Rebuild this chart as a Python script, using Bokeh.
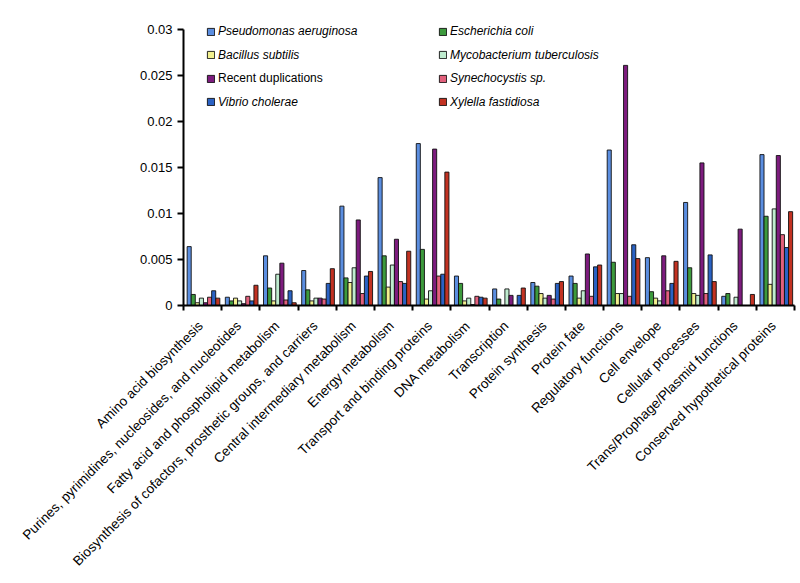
import math
from bokeh.plotting import figure
from bokeh.models import Range1d, FixedTicker, Legend, LegendItem, ColumnDataSource
from bokeh.embed import file_html
from bokeh.resources import INLINE

categories = [
    "Amino acid biosynthesis",
    "Purines, pyrimidines, nucleosides, and nucleotides",
    "Fatty acid and phospholipid metabolism",
    "Biosynthesis of cofactors, prosthetic groups, and carriers",
    "Central intermediary metabolism",
    "Energy metabolism",
    "Transport and binding proteins",
    "DNA metabolism",
    "Transcription",
    "Protein synthesis",
    "Protein fate",
    "Regulatory functions",
    "Cell envelope",
    "Cellular processes",
    "Trans/Prophage/Plasmid functions",
    "Conserved hypothetical proteins",
]

series_names = [
    "Pseudomonas aeruginosa",
    "Escherichia coli",
    "Bacillus subtilis",
    "Mycobacterium tuberculosis",
    "Recent duplications",
    "Synechocystis sp.",
    "Vibrio cholerae",
    "Xylella fastidiosa",
]

pseudomonas = [0.0064, 0.0009, 0.0054, 0.0038, 0.0108, 0.0139, 0.0176, 0.0032, 0.0018, 0.0025, 0.0032, 0.0169, 0.0052, 0.0112, 0.0010, 0.0164]
ecoli       = [0.0012, 0.0005, 0.0019, 0.0017, 0.0030, 0.0054, 0.0061, 0.0024, 0.0007, 0.0021, 0.0024, 0.0047, 0.0015, 0.0041, 0.0013, 0.0097]
bacillus    = [0.0003, 0.0008, 0.0005, 0.0005, 0.0025, 0.0020, 0.0007, 0.0005, 0.0000, 0.0013, 0.0008, 0.0013, 0.0008, 0.0013, 0.0000, 0.0023]
mycobact    = [0.0008, 0.0005, 0.0034, 0.0008, 0.0041, 0.0044, 0.0016, 0.0008, 0.0018, 0.0008, 0.0016, 0.0013, 0.0005, 0.0011, 0.0009, 0.0105]
recent_dup  = [0.0003, 0.0002, 0.0046, 0.0008, 0.0093, 0.0072, 0.0170, 0.0001, 0.0011, 0.0011, 0.0056, 0.0261, 0.0054, 0.0155, 0.0083, 0.0163]
synecho     = [0.0009, 0.0010, 0.0006, 0.0007, 0.0013, 0.0026, 0.0032, 0.0010, 0.0000, 0.0007, 0.0010, 0.0010, 0.0016, 0.0013, 0.0000, 0.0077]
vibrio      = [0.0016, 0.0005, 0.0016, 0.0024, 0.0032, 0.0024, 0.0034, 0.0009, 0.0011, 0.0024, 0.0042, 0.0066, 0.0024, 0.0055, 0.0000, 0.0063]
xylella     = [0.0008, 0.0022, 0.0003, 0.0040, 0.0037, 0.0059, 0.0145, 0.0008, 0.0019, 0.0026, 0.0044, 0.0051, 0.0048, 0.0026, 0.0012, 0.0102]

series = [pseudomonas, ecoli, bacillus, mycobact, recent_dup, synecho, vibrio, xylella]
colors = ["#5b8ee0", "#3d9a3d", "#f2f08e", "#bfeccf", "#7d1c7e", "#e2607c", "#2a62c4", "#c23222"]
italic = [True, True, True, True, False, True, True, True]

y_ticks = [0, 0.005, 0.01, 0.015, 0.02, 0.025, 0.03]
y_max = 0.03

FONT = "Liberation Sans"

# frame: page y 20..305 ; 0.03 sits at page y 29
frame_top, frame_bottom = 20, 305
axis_px = frame_bottom - 29
frame_h = frame_bottom - frame_top
y_end = y_max * frame_h / axis_px

p = figure(width=800, height=583, x_range=Range1d(0, 16), y_range=Range1d(0, y_end),
           output_backend="svg", toolbar_location=None,
           min_border_left=183, min_border_right=6, min_border_top=frame_top,
           min_border_bottom=583 - frame_bottom)
p.outline_line_color = None
p.xgrid.visible = False
p.ygrid.visible = False

n = len(categories)
bar_w = 0.107
start = 0.095
renderers = []
for i, (vals, col) in enumerate(zip(series, colors)):
    xs = [g + start + bar_w * (i + 0.5) for g in range(n)]
    src = ColumnDataSource(dict(x=xs, top=vals))
    r = p.vbar(x="x", top="top", bottom=0, width=bar_w, source=src,
               fill_color=col, line_color="#101010", line_width=0.9)
    renderers.append(r)

# x axis: tick marks at group boundaries, labels near group centres
label_pos = [g + 0.45 for g in range(n)]
xa = p.xaxis[0]
xa.ticker = FixedTicker(ticks=label_pos, minor_ticks=list(range(n + 1)))
xa.major_label_overrides = {pos: categories[g] for g, pos in enumerate(label_pos)}
xa.major_tick_line_color = None
xa.major_tick_out = 6
xa.major_tick_in = 0
xa.minor_tick_out = 5
xa.minor_tick_in = 0
xa.minor_tick_line_color = "black"
xa.minor_tick_line_width = 2
xa.axis_line_color = "black"
xa.axis_line_width = 2
xa.major_label_orientation = math.pi / 4
xa.major_label_text_font = FONT
xa.major_label_text_font_size = "13.5px"
xa.major_label_text_color = "black"
xa.major_label_standoff = 12

# y axis
ya = p.yaxis[0]
ya.bounds = (0, y_max)
ya.ticker = FixedTicker(ticks=y_ticks, minor_ticks=[])
ya.major_label_overrides = {t: f"{t:g}" for t in y_ticks}
ya.major_tick_out = 6
ya.major_tick_in = 0
ya.major_tick_line_width = 2
ya.major_tick_line_color = "black"
ya.minor_tick_line_color = None
ya.axis_line_color = "black"
ya.axis_line_width = 2
ya.major_label_text_font = FONT
ya.major_label_text_font_size = "13px"
ya.major_label_text_color = "black"
ya.major_label_standoff = 5

# legend: two columns, four rows (page y centres 31, 54.5, 78, 101.5)
row_centers = [31 - frame_top, 54.5 - frame_top, 78 - frame_top, 101.5 - frame_top]
col_lefts = [23, 255]   # px from frame left
item_h = 14
for k, (name, r) in enumerate(zip(series_names, renderers)):
    row, col = divmod(k, 2)
    bottom = frame_h - (row_centers[row] + item_h / 2)
    leg = Legend(items=[LegendItem(label=name, renderers=[r])],
                 location=(col_lefts[col], bottom),
                 padding=0, margin=0, spacing=0,
                 border_line_color=None, background_fill_alpha=0,
                 glyph_width=9, glyph_height=9, label_standoff=3,
                 label_height=item_h, label_text_font=FONT,
                 label_text_font_size="12px",
                 label_text_font_style="italic" if italic[k] else "normal",
                 label_text_color="black")
    p.add_layout(leg, "center")

open("out.html", "w").write(file_html(p, INLINE))
